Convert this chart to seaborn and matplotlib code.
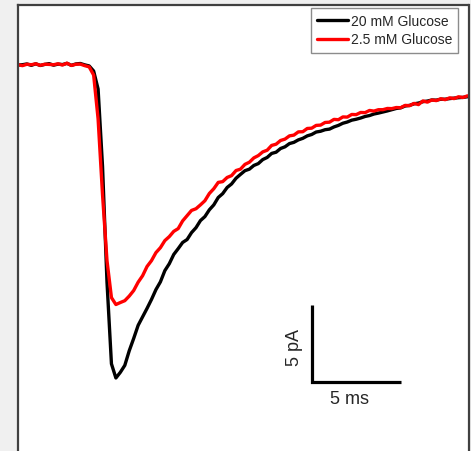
import numpy as np
import pandas as pd
import matplotlib
matplotlib.use("Agg")
import matplotlib.pyplot as plt
import seaborn as sns

# sampling grid of the traces (ms)
time_ms = np.round(np.arange(0, 25.26, 0.25), 2)

# evoked currents (pA), baseline-subtracted
glucose_20 = [
    0.00, 0.02, 0.07, -0.02, 0.08, -0.03, 0.04, 0.09, -0.01, 0.06, 0.03, 0.11, -0.02, 0.07, 0.10, 0.01, -0.06,
    -0.39, -1.56, -6.60, -14.10, -19.40,
    -20.32, -19.95, -19.50, -18.55, -17.75, -16.90, -16.35, -15.80, -15.22, -14.58,
    -14.08, -13.35, -12.90, -12.30, -11.92, -11.52, -11.33, -10.88, -10.56, -10.10,
    -9.84, -9.40, -9.08, -8.60, -8.35, -7.95, -7.72, -7.35, -7.10, -6.86,
    -6.76, -6.52, -6.40, -6.14, -6.00, -5.74, -5.66, -5.42, -5.31, -5.10,
    -5.02, -4.86, -4.76, -4.60, -4.51, -4.35, -4.30, -4.20, -4.16, -4.02,
    -3.92, -3.78, -3.70, -3.58, -3.52, -3.44, -3.34, -3.28, -3.18, -3.12,
    -3.05, -2.98, -2.90, -2.82, -2.78, -2.66, -2.62, -2.52, -2.47, -2.38,
    -2.34, -2.27, -2.28, -2.22, -2.22, -2.18, -2.15, -2.12, -2.10, -2.06,
]
glucose_2_5 = [
    0.02, -0.04, 0.05, 0.02, 0.08, -0.02, 0.05, 0.04, 0.02, 0.08, 0.00, 0.12, -0.03, 0.05, 0.06, -0.04, -0.12,
    -0.65, -3.50, -8.44, -12.70, -15.10,
    -15.55, -15.42, -15.30, -15.00, -14.64, -14.10, -13.68, -13.08, -12.70, -12.18,
    -11.86, -11.40, -11.14, -10.80, -10.62, -10.12, -9.78, -9.44, -9.33, -9.08,
    -8.81, -8.34, -8.03, -7.62, -7.57, -7.30, -7.18, -6.85, -6.76, -6.45,
    -6.31, -6.03, -5.88, -5.64, -5.53, -5.22, -5.14, -4.90, -4.81, -4.60,
    -4.55, -4.34, -4.33, -4.12, -4.10, -3.92, -3.90, -3.73, -3.71, -3.53,
    -3.55, -3.37, -3.38, -3.21, -3.22, -3.08, -3.09, -2.95, -2.99, -2.90,
    -2.90, -2.82, -2.83, -2.76, -2.77, -2.62, -2.64, -2.49, -2.57, -2.33,
    -2.41, -2.27, -2.31, -2.19, -2.25, -2.13, -2.18, -2.06, -2.11, -2.00,
]
conditions = ["20 mM Glucose", "2.5 mM Glucose"]
colors = {"20 mM Glucose": "black", "2.5 mM Glucose": "#ff0000"}

# scale bar: 5 ms x 5 pA
bar_ms, bar_pa = 5, 5

df = pd.concat([
    pd.DataFrame({"time": time_ms, "current": glucose_20, "condition": conditions[0]}),
    pd.DataFrame({"time": time_ms, "current": glucose_2_5, "condition": conditions[1]}),
])

sns.set_style("white")
plt.rcParams["font.family"] = ["Liberation Sans", "DejaVu Sans"]

fig = plt.figure(figsize=(4.71, 4.52), dpi=100, facecolor="#f0f0f0")
ax = fig.add_axes([17.5 / 471, 0, 451 / 471, 446.5 / 452])
ax.set_facecolor("white")

sns.lineplot(data=df, x="time", y="current", hue="condition", hue_order=conditions,
             palette=colors, estimator=None, sort=False, lw=2.4, ax=ax)

ax.set_xlim(-0.028, 25.31)
ax.set_ylim(-25.06, 3.93)
ax.set_xticks([])
ax.set_yticks([])
ax.set_xlabel("")
ax.set_ylabel("")
for side in ["left", "top", "right"]:
    ax.spines[side].set_color("#404040")
    ax.spines[side].set_linewidth(1.6)
ax.spines["bottom"].set_visible(False)

# scale bar
x0, y0 = 16.52, -20.58
ax.plot([x0, x0, x0 + bar_ms], [y0 + bar_pa, y0, y0], color="black", lw=2.3,
        solid_joinstyle="miter", solid_capstyle="butt")
ax.text(x0 - 0.96, y0 + bar_pa / 2 - 0.2, f"{bar_pa} pA", rotation=90, ha="center", va="center",
        fontsize=13)
ax.text(x0 + 2.1, y0 - 1.1, f"{bar_ms} ms", ha="center", va="center", fontsize=13)

leg = ax.legend(loc="upper left", bbox_to_anchor=(0.651, 0.992), borderaxespad=0,
                fontsize=10, handlelength=2.2, handletextpad=0.2, borderpad=0.45,
                labelspacing=0.3, frameon=True, fancybox=False, title=None)
leg.get_frame().set_edgecolor("#707070")
leg.get_frame().set_linewidth(1.0)
for line in leg.get_lines():
    line.set_linewidth(2.4)

fig.savefig("out.png", dpi=100, facecolor=fig.get_facecolor())
